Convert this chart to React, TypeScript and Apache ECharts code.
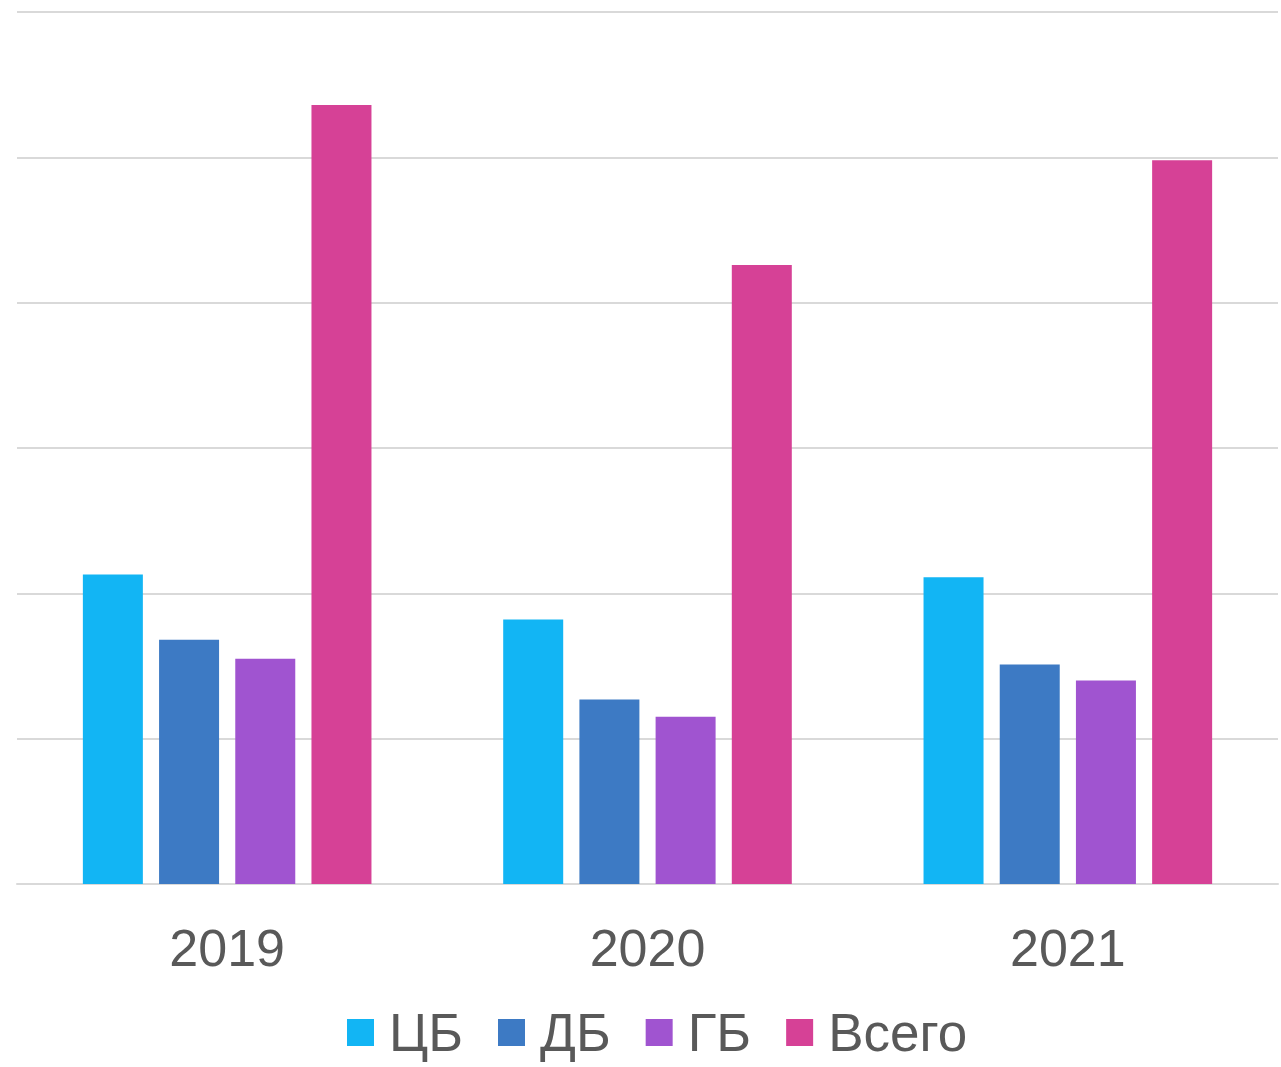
import React, { useEffect, useRef } from "react";
import * as echarts from "echarts";

const categories = ["2019", "2020", "2021"];
const seriesNames = ["ЦБ", "ДБ", "ГБ", "Всего"];
const cbValues = [213, 182, 211];
const dbValues = [168, 127, 151];
const gbValues = [155, 115, 140];
const totalValues = [536, 426, 498];
const colors = ["#12B5F4", "#3D7AC4", "#A054D0", "#D64196"];

export default function App() {
  const ref = useRef<HTMLDivElement>(null);
  useEffect(() => {
    if (!ref.current) return;
    const chart = echarts.init(ref.current, undefined, { renderer: "svg" });
    const data = [cbValues, dbValues, gbValues, totalValues];
    chart.setOption({
      animation: false,
      textStyle: { fontFamily: "Liberation Sans, Arial, sans-serif" },
      grid: { left: 17, right: 3, top: 12, bottom: 183, containLabel: false },
      legend: {
        data: seriesNames,
        left: 342,
        top: 1001,
        icon: "rect",
        itemWidth: 27,
        itemHeight: 27,
        itemGap: 35,
        textStyle: { fontSize: 53, color: "#595959", padding: [0, 0, 0, 10] },
      },
      xAxis: {
        type: "category",
        data: categories,
        axisTick: { show: false },
        axisLine: { lineStyle: { color: "#D9D9D9", width: 2 } },
        axisLabel: { fontSize: 52, color: "#595959", margin: 38 },
      },
      yAxis: {
        type: "value",
        min: 0,
        max: 600,
        interval: 100,
        axisLabel: { show: false },
        axisLine: { show: false },
        axisTick: { show: false },
        splitLine: { lineStyle: { color: "#D9D9D9", width: 2 } },
      },
      series: seriesNames.map((name, i) => ({
        name,
        type: "bar",
        data: data[i],
        barWidth: 60,
        barGap: "27%",
        itemStyle: { color: colors[i] },
      })),
    });
    return () => chart.dispose();
  }, []);
  return <div ref={ref} style={{ width: 1281, height: 1067, position: "absolute", left: 0, top: 0 }} />;
}
